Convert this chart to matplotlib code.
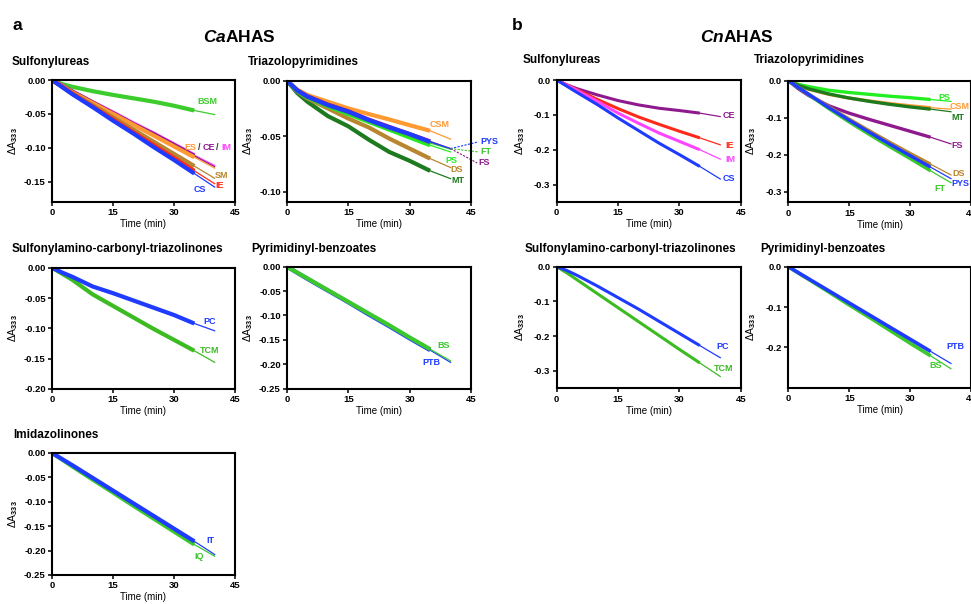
import matplotlib
matplotlib.use("Agg")
import matplotlib.pyplot as plt

plt.rcParams['font.family'] = ['Liberation Sans', 'DejaVu Sans']
plt.rcParams['font.weight'] = 'bold'
plt.rcParams['axes.unicode_minus'] = False
plt.rcParams['mathtext.fontset'] = 'custom'
plt.rcParams['mathtext.rm'] = 'Liberation Sans:bold'
plt.rcParams['mathtext.it'] = 'Liberation Sans:bold:italic'
plt.rcParams['mathtext.bf'] = 'Liberation Sans:bold'

# time points (min); data recorded up to 35 min, fit drawn to 40 min
T = [0, 2.5, 5, 10, 15, 20, 25, 30, 35, 40]
N_DATA = 9  # points up to 35 min

# ---- CaAHAS ----
a_su_names = ['BSM', 'IM', 'CE', 'ES', 'SM', 'IE', 'CS']
a_su_vals = [
    [0, -0.006, -0.010, -0.0165, -0.022, -0.027, -0.032, -0.038, -0.045, -0.051],
    [0, -0.0085, -0.017, -0.033, -0.048, -0.064, -0.079, -0.095, -0.111, -0.126],
    [0, -0.0085, -0.017, -0.033, -0.049, -0.065, -0.080, -0.096, -0.112, -0.128],
    [0, -0.009, -0.018, -0.034, -0.050, -0.066, -0.082, -0.098, -0.114, -0.130],
    [0, -0.0095, -0.019, -0.037, -0.055, -0.073, -0.091, -0.109, -0.127, -0.145],
    [0, -0.010, -0.020, -0.039, -0.058, -0.077, -0.096, -0.115, -0.134, -0.153],
    [0, -0.0105, -0.021, -0.040, -0.060, -0.079, -0.099, -0.118, -0.138, -0.158],
]

a_tp_names = ['CSM', 'MT', 'DS', 'PS', 'FS', 'FT', 'PYS']
a_tp_vals = [
    [0, -0.008, -0.0129, -0.0189, -0.0249, -0.030, -0.0348, -0.040, -0.045, -0.0525],
    [0, -0.011, -0.0189, -0.0318, -0.041, -0.053, -0.064, -0.072, -0.081, -0.088],
    [0, -0.0095, -0.0159, -0.0249, -0.034, -0.042, -0.052, -0.061, -0.070, -0.078],
    [0, -0.009, -0.015, -0.023, -0.030, -0.037, -0.044, -0.051, -0.058, -0.064],
    [0, -0.0085, -0.014, -0.0215, -0.0275, -0.035, -0.0415, -0.048, -0.0545, -0.061],
    [0, -0.009, -0.015, -0.0225, -0.029, -0.036, -0.043, -0.049, -0.056, -0.0615],
    [0, -0.0088, -0.0144, -0.0219, -0.0279, -0.0354, -0.042, -0.048, -0.055, -0.061],
]

a_sct_names = ['TCM', 'PC']
a_sct_vals = [
    [0, -0.010, -0.020, -0.044, -0.063, -0.082, -0.101, -0.119, -0.137, -0.156],
    [0, -0.008, -0.015, -0.031, -0.042, -0.054, -0.066, -0.078, -0.092, -0.104],
]

a_pb_names = ['PTB', 'BS']
a_pb_vals = [
    [0, -0.0125, -0.025, -0.049, -0.073, -0.098, -0.122, -0.147, -0.171, -0.196],
    [0, -0.012, -0.024, -0.048, -0.072, -0.096, -0.120, -0.145, -0.169, -0.193],
]

a_imi_names = ['IQ', 'IT']
a_imi_vals = [
    [0, -0.0135, -0.0275, -0.0545, -0.081, -0.108, -0.1345, -0.161, -0.1875, -0.2115],
    [0, -0.0125, -0.025, -0.051, -0.077, -0.103, -0.129, -0.155, -0.181, -0.208],
]

# ---- CnAHAS ----
b_su_names = ['CE', 'IE', 'IM', 'CS']
b_su_vals = [
    [0, -0.014, -0.025, -0.043, -0.059, -0.0714, -0.081, -0.0876, -0.095, -0.105],
    [0, -0.014, -0.028, -0.056, -0.082, -0.106, -0.127, -0.147, -0.166, -0.186],
    [0, -0.015, -0.030, -0.062, -0.095, -0.124, -0.152, -0.176, -0.200, -0.227],
    [0, -0.018, -0.036, -0.071, -0.109, -0.145, -0.181, -0.214, -0.248, -0.284],
]

b_tp_names = ['PS', 'CSM', 'MT', 'FS', 'DS', 'FT', 'PYS']
b_tp_vals = [
    [0, -0.010, -0.016, -0.026, -0.032, -0.037, -0.042, -0.046, -0.051, -0.056],
    [0, -0.013, -0.023, -0.037, -0.047, -0.055, -0.062, -0.068, -0.073, -0.077],
    [0, -0.0125, -0.022, -0.036, -0.047, -0.056, -0.064, -0.071, -0.077, -0.084],
    [0, -0.022, -0.040, -0.068, -0.088, -0.105, -0.121, -0.137, -0.153, -0.171],
    [0, -0.018, -0.036, -0.071, -0.104, -0.136, -0.167, -0.197, -0.226, -0.255],
    [0, -0.019, -0.038, -0.076, -0.112, -0.146, -0.179, -0.211, -0.244, -0.276],
    [0, -0.0185, -0.037, -0.073, -0.107, -0.140, -0.172, -0.203, -0.234, -0.265],
]

b_sct_names = ['TCM', 'PC']
b_sct_vals = [
    [0, -0.018, -0.038, -0.078, -0.118, -0.158, -0.198, -0.238, -0.277, -0.316],
    [0, -0.011, -0.025, -0.056, -0.089, -0.122, -0.157, -0.192, -0.227, -0.262],
]

b_pb_names = ['BS', 'PTB']
b_pb_vals = [
    [0, -0.016, -0.0315, -0.063, -0.095, -0.126, -0.158, -0.190, -0.221, -0.253],
    [0, -0.015, -0.030, -0.060, -0.090, -0.120, -0.150, -0.180, -0.210, -0.240],
]

colors = {
    'BSM': '#3ccc2c', 'IM': '#ff44ff', 'CE': '#8e1a8e', 'ES': '#ff9a33',
    'SM': '#b8862f', 'IE': '#ff2a1a', 'CS': '#1f3bff', 'CSM': '#ff9a33',
    'MT': '#1e7a1e', 'DS': '#b8862f', 'PS': '#22ee22', 'FS': '#8e1a8e',
    'FT': '#3cc82c', 'PYS': '#1f3bff', 'TCM': '#3cbb22', 'PC': '#1f3bff',
    'PTB': '#1f3bff', 'BS': '#3cc82c', 'IQ': '#3cc82c', 'IT': '#1f3bff',
}

W, H = 971, 604
fig = plt.figure(figsize=(W / 100, H / 100), dpi=100)


def make_ax(x0, x1, y0, y1, ymin, yticks, fmt, title, tx, ty, lab_x):
    ax = fig.add_axes([x0 / W, 1 - y1 / H, (x1 - x0) / W, (y1 - y0) / H])
    ax.set_xlim(0, 45)
    ax.set_ylim(ymin, 0)
    ax.set_xticks([0, 15, 30, 45])
    ax.set_xticklabels(['0', '15', '30', '45'])
    ax.set_yticks(yticks)
    ax.set_yticklabels([fmt.format(v) if v != 0 else fmt.format(0.0) for v in yticks])
    ax.tick_params(direction='out', length=3, width=1.1, labelsize=6.8, pad=1.5)
    for s in ax.spines.values():
        s.set_linewidth(1.5)
    ax.set_xlabel('Time (min)', fontsize=7, labelpad=1.5)
    ax.set_ylabel('ΔA$_{333}$', fontsize=7.5)
    ax.yaxis.set_label_coords((lab_x - x0) / (x1 - x0), 0.5)
    fig.text(tx / W, 1 - ty / H, title, fontsize=8.5, ha='left', va='center')
    return ax


def draw(ax, names, vals, lw_data=3.0):
    for n, v in zip(names, vals):
        c = colors[n]
        ax.plot(T[:N_DATA], v[:N_DATA], color=c, lw=lw_data, solid_capstyle='butt',
                solid_joinstyle='round')
        ax.plot(T, v, color=c, lw=0.9)


def lab(ax, s, x, y, c=None, ha='center'):
    ax.text(x, y, s, color=c if c else colors[s], fontsize=6.5, ha=ha, va='center',
            clip_on=False)


fig.text(12 / W, 1 - 25 / H, 'a', fontsize=12.5, ha='left', va='center')
fig.text(512 / W, 1 - 25 / H, 'b', fontsize=12.5, ha='left', va='center')
fig.text(239 / W, 1 - 37 / H, r'$\mathit{Ca}$AHAS', fontsize=12.5, ha='center', va='center')
fig.text(737 / W, 1 - 37 / H, r'$\mathit{Cn}$AHAS', fontsize=12.5, ha='center', va='center')

f2 = '{:.2f}'
f1 = '{:.1f}'

# a: Sulfonylureas
ax = make_ax(52, 235, 80, 202, -0.18, [0, -0.05, -0.10, -0.15], f2, 'Sulfonylureas', 12, 61.5, 20)
draw(ax, a_su_names, a_su_vals)
lab(ax, 'BSM', 38.1, -0.032)
lab(ax, 'ES', 34.0, -0.0995)
lab(ax, '/', 36.1, -0.0995, c='#333333')
lab(ax, 'CE', 38.6, -0.0995)
lab(ax, '/', 40.6, -0.0995, c='#333333')
lab(ax, 'IM', 43.0, -0.0995)
lab(ax, 'SM', 41.6, -0.1408)
lab(ax, 'IE', 41.1, -0.155)
lab(ax, 'CS', 36.4, -0.162)

# a: Triazolopyrimidines
ax = make_ax(287, 471, 80.7, 202, -0.109, [0, -0.05, -0.10], f2, 'Triazolopyrimidines', 248, 61.5, 255)
draw(ax, a_tp_names, a_tp_vals)
lab(ax, 'CSM', 37.4, -0.039)
lab(ax, 'PS', 40.3, -0.0714)
lab(ax, 'DS', 41.6, -0.080)
lab(ax, 'MT', 41.9, -0.090)
end = a_tp_vals[a_tp_names.index('PYS')][-1]
for n, lx, ly in [('PYS', 46.8, -0.055), ('FT', 46.8, -0.064), ('FS', 46.5, -0.0739)]:
    ax.plot([T[-1], lx], [end, ly], color=colors[n], lw=0.8, ls=(0, (2, 1.2)), clip_on=False)
    lab(ax, n, lx + 0.4, ly, ha='left')

# a: Sulfonylamino-carbonyl-triazolinones
ax = make_ax(52, 235, 267.7, 389, -0.20, [0, -0.05, -0.10, -0.15, -0.20], f2,
             'Sulfonylamino-carbonyl-triazolinones', 12, 249, 20)
draw(ax, a_sct_names, a_sct_vals)
lab(ax, 'PC', 38.7, -0.089)
lab(ax, 'TCM', 38.8, -0.137)

# a: Pyrimidinyl-benzoates
ax = make_ax(287, 471, 266.7, 388.7, -0.25, [0, -0.05, -0.10, -0.15, -0.20, -0.25], f2,
             'Pyrimidinyl-benzoates', 251, 249, 255)
draw(ax, a_pb_names, a_pb_vals)
lab(ax, 'BS', 38.2, -0.1625)
lab(ax, 'PTB', 35.4, -0.1967)

# a: Imidazolinones
ax = make_ax(52, 235, 453, 575, -0.25, [0, -0.05, -0.10, -0.15, -0.20, -0.25], f2,
             'Imidazolinones', 13, 435.5, 20)
draw(ax, a_imi_names, a_imi_vals)
lab(ax, 'IT', 39.0, -0.180)
lab(ax, 'IQ', 36.2, -0.213)

# b: Sulfonylureas
ax = make_ax(556.7, 740.7, 80, 202, -0.35, [0, -0.1, -0.2, -0.3], f1, 'Sulfonylureas', 523, 60, 527)
draw(ax, b_su_names, b_su_vals, lw_data=2.2)
lab(ax, 'CE', 42.2, -0.103)
lab(ax, 'IE', 42.4, -0.187)
lab(ax, 'IM', 42.4, -0.229)
lab(ax, 'CS', 42.0, -0.282)

# b: Triazolopyrimidines
ax = make_ax(788.3, 971.3, 80.7, 202.3, -0.329, [0, -0.1, -0.2, -0.3], f1, 'Triazolopyrimidines', 754, 60, 758)
draw(ax, b_tp_names, b_tp_vals, lw_data=2.4)
lab(ax, 'PS', 38.3, -0.045)
lab(ax, 'CSM', 42.2, -0.070)
lab(ax, 'MT', 41.8, -0.099)
lab(ax, 'FS', 41.6, -0.175)
lab(ax, 'DS', 41.8, -0.250)
lab(ax, 'PYS', 42.2, -0.277)
lab(ax, 'FT', 37.3, -0.291)

# b: Sulfonylamino-carbonyl-triazolinones
ax = make_ax(556.7, 740.7, 266.7, 388.3, -0.35, [0, -0.1, -0.2, -0.3], f1,
             'Sulfonylamino-carbonyl-triazolinones', 525, 249, 527)
draw(ax, b_sct_names, b_sct_vals, lw_data=2.2)
lab(ax, 'PC', 40.5, -0.230)
lab(ax, 'TCM', 40.9, -0.292)

# b: Pyrimidinyl-benzoates
ax = make_ax(788.3, 971.3, 266.7, 387.7, -0.30, [0, -0.1, -0.2], f1, 'Pyrimidinyl-benzoates', 760, 249, 758)
draw(ax, b_pb_names, b_pb_vals, lw_data=2.6)
lab(ax, 'PTB', 41.0, -0.1975)
lab(ax, 'BS', 36.2, -0.245)

fig.savefig('out.png', dpi=100)
